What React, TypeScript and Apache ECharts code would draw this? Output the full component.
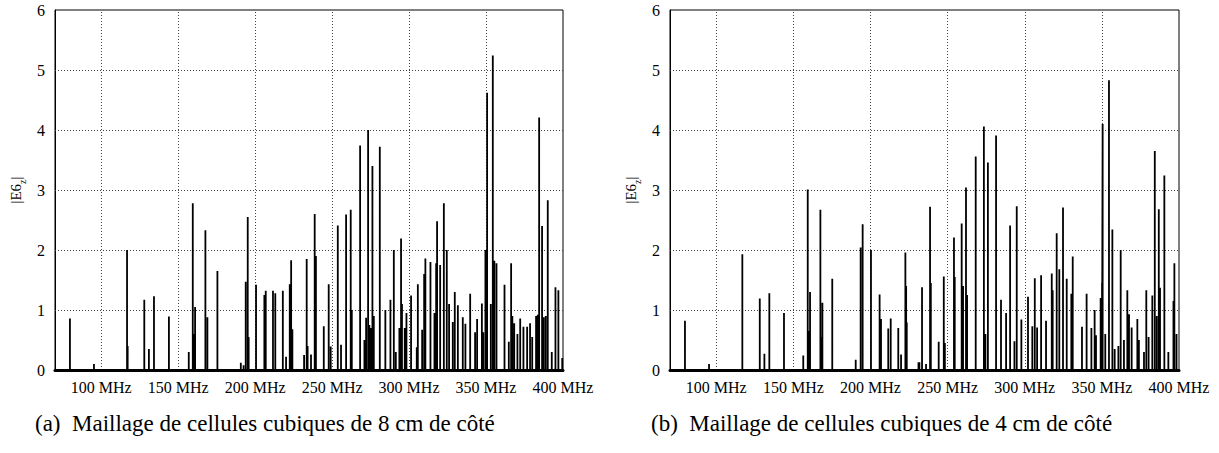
import React, { useEffect, useRef } from "react";
import * as echarts from "echarts";

// Peak list [frequency (MHz), |E6z|] for panel (a): 8 cm cells
const peaksA: [number, number][] = [
  [79.7, 0.86], [95.3, 0.1], [116.8, 2.0], [117.2, 0.4], [128, 1.17], [131, 0.35], [134.3, 1.23],
  [144, 0.89], [156.9, 0.3], [159.5, 2.78], [160.3, 0.6], [161, 1.05], [167.7, 2.33], [169, 0.88],
  [175.5, 1.65], [190.7, 0.12], [192.5, 0.08], [193.9, 1.47], [195.2, 2.55], [195.8, 0.55],
  [200.6, 1.42], [206, 1.25], [206.9, 1.32], [211.6, 1.32], [213.1, 1.28], [218, 1.32],
  [220.1, 0.22], [222.5, 1.43], [223.4, 1.83], [224.2, 0.68], [231.8, 0.25], [233.5, 1.85],
  [234.1, 0.4], [236.3, 0.26], [238.7, 2.6], [239.5, 1.9], [244.6, 0.73], [247.8, 1.43],
  [249.1, 0.39], [253.7, 2.41], [255.8, 0.42], [259.1, 2.59], [262.1, 2.67], [262.8, 1.0],
  [268.2, 3.74], [271, 0.5], [272.1, 0.87], [273.4, 4.0], [274.2, 0.75], [275.3, 0.7],
  [276.2, 3.4], [277.1, 0.9], [281, 3.72], [284.6, 1.0], [287.9, 1.17], [290.1, 2.0],
  [291.4, 0.3], [293.7, 0.7], [294.8, 2.19], [295.4, 1.1], [297.2, 0.7], [298.3, 0.95],
  [301.3, 1.24], [305, 0.38], [305.7, 1.43], [308.5, 0.67], [309.8, 1.6], [310.6, 1.86],
  [313.9, 1.8], [316.5, 0.95], [317.6, 1.78], [318.2, 2.48], [320.2, 1.75], [322.6, 2.78],
  [324.5, 2.0], [326, 1.1], [328.4, 0.8], [329.7, 1.3], [331.7, 1.08], [334.9, 0.88],
  [336.6, 0.77], [339.7, 1.27], [342.9, 0.63], [344.2, 0.85], [347.3, 1.11], [348.2, 0.63],
  [349.6, 2.0], [350.7, 4.62], [353.1, 1.1], [354.4, 5.24], [355.4, 1.82], [356.8, 1.78],
  [362, 1.42], [364.8, 0.47], [366.3, 1.78], [367.1, 0.9], [368.3, 0.78], [370.4, 0.6],
  [372.2, 0.86], [374.3, 0.72], [376.7, 0.72], [378.6, 0.78], [380, 0.55], [382.5, 0.9],
  [383.6, 0.92], [384.5, 4.21], [386.4, 2.4], [387.5, 0.88], [388.8, 0.9], [390.1, 2.83],
  [392.7, 0.3], [395.1, 1.38], [397, 1.33], [399.5, 0.2],
];

// Peak list [frequency (MHz), |E6z|] for panel (b): 4 cm cells
const peaksB: [number, number][] = [
  [79.7, 0.82], [95.3, 0.1], [116.9, 1.93], [128.2, 1.19], [131.2, 0.27], [134.4, 1.28],
  [143.9, 0.95], [156.4, 0.24], [159.3, 3.01], [159.9, 0.65], [160.8, 1.3], [167.5, 2.67],
  [168.1, 0.55], [168.8, 1.12], [175.2, 1.52], [190.4, 0.17], [193.6, 2.04], [194.9, 2.43],
  [200.3, 2.0], [205.9, 1.26], [206.8, 0.85], [211.5, 0.69], [213.1, 0.86], [218, 0.7],
  [219.8, 0.26], [222.6, 1.96], [223.1, 1.4], [223.5, 0.79], [231.1, 0.13], [231.7, 0.13],
  [233.4, 1.38], [236, 0.1], [238.6, 2.72], [239.1, 1.45], [244.2, 0.47], [247.5, 1.56],
  [248.2, 0.45], [254.1, 2.21], [254.6, 1.55], [259.1, 2.44], [260, 1.4], [261.9, 3.04],
  [262.6, 1.25], [268.2, 3.56], [273.5, 4.06], [274.5, 0.6], [276.1, 3.46], [281.4, 3.91],
  [284.6, 1.17], [287.9, 0.95], [290.5, 2.41], [293.3, 0.48], [294.8, 2.73], [297.8, 0.84],
  [302.1, 1.22], [304.9, 0.73], [306.5, 1.53], [308, 0.71], [310.6, 1.58], [313.8, 0.82],
  [317.5, 1.61], [318.1, 1.33], [320.7, 2.28], [322.4, 1.68], [324.8, 2.71], [327.2, 1.52],
  [330.2, 1.27], [331.1, 1.89], [337.1, 0.72], [340.1, 1.27], [343.2, 0.7], [345.3, 1.0],
  [346.2, 0.58], [349.2, 1.2], [350.1, 1.45], [350.5, 4.1], [352.2, 0.6], [354.6, 4.83],
  [356.8, 2.34], [358.3, 0.35], [360.7, 0.4], [362.2, 2.0], [364.3, 0.5], [366.5, 1.33],
  [367.6, 0.93], [369.3, 0.71], [373, 0.85], [374, 0.5], [377.3, 0.3], [378.8, 1.33],
  [380.3, 0.55], [382.7, 1.24], [384.3, 3.65], [385.6, 0.9], [386.9, 2.68], [387.7, 1.37],
  [390.5, 3.24], [393.1, 0.3], [396.4, 1.15], [397, 1.78], [398.4, 0.6],
];

const xTicks = [100, 150, 200, 250, 300, 350, 400];
const yGrid = [1, 2, 3, 4, 5];
const xMin = 70;
const xMax = 400;
const yMax = 6;
const captions = [
  "(a)  Maillage de cellules cubiques de 8 cm de côté",
  "(b)  Maillage de cellules cubiques de 4 cm de côté",
];

const FONT = "'Liberation Serif', 'Times New Roman', serif";

function spikes(peaks: [number, number][]): [number, number][] {
  const out: [number, number][] = [[xMin, 0]];
  const sorted = [...peaks].sort((a, b) => a[0] - b[0]);
  for (const [f, h] of sorted) {
    out.push([f, 0], [f, h], [f, 0]);
  }
  out.push([xMax, 0]);
  return out;
}

export default function App() {
  const ref = useRef<HTMLDivElement>(null);
  useEffect(() => {
    if (!ref.current) return;
    const chart = echarts.init(ref.current, null, { renderer: "svg" });
    const grids = [
      { left: 55, top: 10, width: 508, height: 360 },
      { left: 670, top: 10, width: 509, height: 360 },
    ];
    const gridStyle = { color: "#444", type: [1, 2], width: 1 };
    const option: any = {
      animation: false,
      textStyle: { fontFamily: FONT },
      grid: grids.map((g) => ({ ...g, show: true, borderColor: "#000", borderWidth: 1, backgroundColor: "transparent" })),
      xAxis: grids.map((_, i) => ({
        gridIndex: i,
        type: "value",
        min: xMin,
        max: xMax,
        axisLine: { show: true, lineStyle: { color: "#000", width: 3 } },
        axisTick: { show: false, customValues: xTicks },
        axisLabel: {
          customValues: xTicks,
          formatter: (v: number) => `${v} MHz`,
          color: "#000",
          fontSize: 16,
          fontFamily: FONT,
          margin: 9,
        },
        splitLine: { show: false },
      })),
      yAxis: grids.map((_, i) => ({
        gridIndex: i,
        type: "value",
        min: 0,
        max: yMax,
        interval: 1,
        axisLine: { show: true, lineStyle: { color: "#000", width: 1 } },
        axisTick: { show: false },
        axisLabel: { color: "#000", fontSize: 16, fontFamily: FONT, margin: 10 },
        splitLine: { show: false },
        name: "{a||E6}{z|z}{a||}",
        nameLocation: "middle",
        nameRotate: 90,
        nameGap: 30,
        nameTextStyle: {
          color: "#000",
          fontFamily: FONT,
          rich: {
            a: { fontSize: 15, fontFamily: FONT, color: "#000", lineHeight: 17, verticalAlign: "top" },
            z: { fontSize: 10, fontFamily: FONT, color: "#000", lineHeight: 10, verticalAlign: "top", padding: [9, 0, 0, 0] },
          },
        },
      })),
      series: [
        ...grids.map((_, i) => ({
          type: "line",
          xAxisIndex: i,
          yAxisIndex: i,
          data: [[xMin, 0]],
          showSymbol: false,
          symbol: "none",
          lineStyle: { width: 0 },
          silent: true,
          z: 1,
          markLine: {
            silent: true,
            symbol: ["none", "none"],
            label: { show: false },
            lineStyle: gridStyle,
            data: [
              ...xTicks.filter((v) => v < xMax).map((v) => ({ xAxis: v })),
              ...yGrid.map((v) => ({ yAxis: v })),
            ],
          },
        })),
        ...[peaksA, peaksB].map((p, i) => ({
          type: "line",
          xAxisIndex: i,
          yAxisIndex: i,
          data: spikes(p),
          showSymbol: false,
          symbol: "none",
          clip: true,
          z: 5,
          lineStyle: { color: "#000", width: 1.8 },
        })),
      ],
      graphic: captions.map((c, i) => ({
        type: "text",
        left: i === 0 ? 35 : 651,
        top: 412,
        style: { text: c, fontSize: 23, fontFamily: FONT, fill: "#000" },
      })),
    };
    chart.setOption(option);
    return () => chart.dispose();
  }, []);
  return (
    <div
      ref={ref}
      style={{ position: "absolute", left: 0, top: 0, width: 1219, height: 453, background: "#fff" }}
    />
  );
}
